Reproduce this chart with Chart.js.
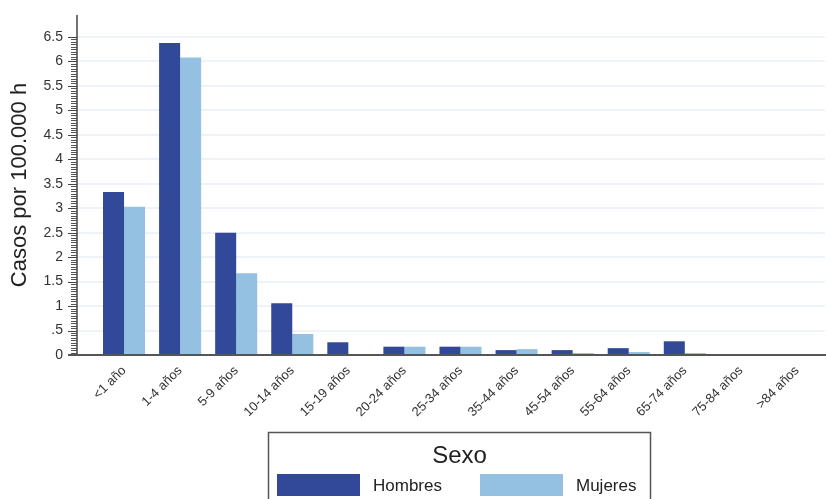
<!DOCTYPE html>
<html>
<head>
<meta charset="utf-8">
<script src="https://cdn.jsdelivr.net/npm/chart.js@4.4.0/dist/chart.umd.min.js"></script>
<style>
  html, body { margin: 0; padding: 0; background: #fff; }
  #wrap { width: 826px; height: 499px; }
</style>
</head>
<body>
<div id="wrap"><canvas id="chart" width="826" height="499"></canvas></div>
<script>
// Datos
const categories = ['<1 año', '1-4 años', '5-9 años', '10-14 años', '15-19 años', '20-24 años',
  '25-34 años', '35-44 años', '45-54 años', '55-64 años', '65-74 años', '75-84 años', '>84 años'];
const hombres = [3.33, 6.38, 2.5, 1.06, 0.26, 0.17, 0.17, 0.1, 0.1, 0.14, 0.28, 0, 0];
const mujeres = [3.03, 6.08, 1.67, 0.43, 0, 0.17, 0.17, 0.12, 0.04, 0.06, 0.04, 0, 0];
const yTicks = [0, 0.5, 1, 1.5, 2, 2.5, 3, 3.5, 4, 4.5, 5, 5.5, 6, 6.5];

const fontFamily = '"Liberation Sans", Arial, sans-serif';
const AXIS_X = 77; // posición de la línea del eje Y

// Ejes, rejilla y marcas dibujadas a mano
const axesPlugin = {
  id: 'axesPlugin',
  beforeDatasetsDraw(chart) {
    const ctx = chart.ctx;
    const y = chart.scales.y;
    const area = chart.chartArea;
    ctx.save();
    ctx.strokeStyle = '#eef3f9';
    ctx.lineWidth = 2;
    yTicks.forEach((v) => {
      if (v === 0) return;
      const py = Math.round(y.getPixelForValue(v));
      ctx.beginPath();
      ctx.moveTo(AXIS_X, py);
      ctx.lineTo(area.right, py);
      ctx.stroke();
    });
    ctx.restore();
  },
  afterDraw(chart) {
    const ctx = chart.ctx;
    const y = chart.scales.y;
    const area = chart.chartArea;
    ctx.save();
    // marcas menores
    ctx.strokeStyle = '#555';
    ctx.lineWidth = 1;
    for (let i = 0; i <= 130; i++) {
      const py = Math.round(y.getPixelForValue(i * 0.05)) + 0.5;
      ctx.beginPath();
      ctx.moveTo(AXIS_X - 6, py);
      ctx.lineTo(AXIS_X, py);
      ctx.stroke();
    }
    // marcas mayores
    ctx.strokeStyle = '#444';
    yTicks.forEach((v) => {
      const py = Math.round(y.getPixelForValue(v)) + 0.5;
      ctx.beginPath();
      ctx.moveTo(AXIS_X - 9, py);
      ctx.lineTo(AXIS_X, py);
      ctx.stroke();
    });
    // eje Y
    ctx.lineWidth = 1.5;
    ctx.beginPath();
    ctx.moveTo(AXIS_X, area.top);
    ctx.lineTo(AXIS_X, area.bottom);
    ctx.stroke();
    // eje X
    ctx.strokeStyle = '#555';
    ctx.lineWidth = 2;
    ctx.beginPath();
    ctx.moveTo(AXIS_X - 9, area.bottom);
    ctx.lineTo(chart.width, area.bottom);
    ctx.stroke();
    ctx.restore();
  },
};

// Leyenda con recuadro
const legendPlugin = {
  id: 'legendBox',
  afterDraw(chart) {
    const ctx = chart.ctx;
    const left = 268.5;
    const top = 432.5;
    const right = 650.5;
    ctx.save();
    ctx.strokeStyle = '#555';
    ctx.lineWidth = 1.5;
    ctx.strokeRect(left, top, right - left, 80);
    ctx.fillStyle = '#222';
    ctx.font = '24px ' + fontFamily;
    ctx.textAlign = 'center';
    ctx.textBaseline = 'middle';
    ctx.fillText('Sexo', (left + right) / 2, 456);
    ctx.font = '17px ' + fontFamily;
    ctx.textAlign = 'left';
    const items = chart.data.datasets;
    const xs = [277, 480];
    items.forEach((ds, i) => {
      ctx.fillStyle = ds.backgroundColor;
      ctx.fillRect(xs[i], 474, 83, 22);
      ctx.fillStyle = '#222';
      ctx.fillText(ds.label, xs[i] + 96, 486);
    });
    ctx.restore();
  },
};

new Chart(document.getElementById('chart'), {
  type: 'bar',
  data: {
    labels: categories,
    datasets: [
      { label: 'Hombres', data: hombres, backgroundColor: '#324898' },
      { label: 'Mujeres', data: mujeres, backgroundColor: '#94c1e1' },
    ],
  },
  options: {
    responsive: false,
    animation: false,
    layout: { padding: { top: 15, right: 1 } },
    plugins: {
      legend: { display: false },
      tooltip: { enabled: false },
    },
    datasets: {
      bar: { categoryPercentage: 0.75, barPercentage: 1.0 },
    },
    scales: {
      x: {
        grid: { display: false, drawTicks: false },
        border: { display: false },
        ticks: {
          minRotation: 45,
          maxRotation: 45,
          autoSkip: false,
          padding: 8,
          color: '#333',
          font: { family: fontFamily, size: 13 },
        },
        afterFit(scale) { scale.height = 144; },
      },
      y: {
        min: 0,
        max: 6.95,
        grid: { display: false, drawTicks: false },
        border: { display: false },
        afterBuildTicks(scale) { scale.ticks = yTicks.map((v) => ({ value: v })); },
        ticks: {
          padding: 33,
          color: '#333',
          font: { family: fontFamily, size: 14 },
          callback(v) {
            if (v === 0.5) return '.5';
            return String(v);
          },
        },
        title: {
          display: true,
          text: 'Casos por 100.000 h',
          color: '#222',
          font: { family: fontFamily, size: 22 },
          padding: { top: 7, bottom: 0 },
        },
        afterFit(scale) {
          scale.width = 96;
          scale.paddingTop = 0;
          scale.paddingBottom = 0;
        },
      },
    },
  },
  plugins: [axesPlugin, legendPlugin],
});
</script>
</body>
</html>
